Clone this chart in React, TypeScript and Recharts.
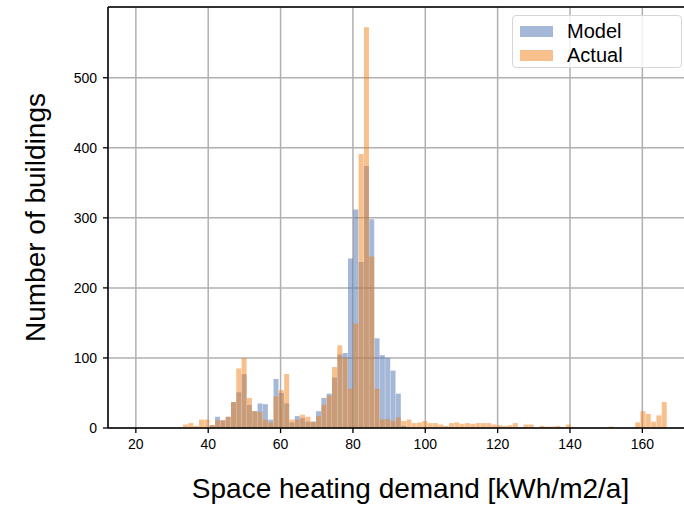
import { BarChart, Bar, XAxis, YAxis, CartesianGrid, ReferenceLine } from 'recharts'

// histogram bins (kWh/m2/a), one entry per bin centre
const binCenters = [
  33.795, 35.265, 36.735, 38.205, 39.675, 41.145, 42.615, 44.085, 45.555, 47.025,
  48.495, 49.965, 51.435, 52.905, 54.375, 55.845, 57.315, 58.785, 60.255, 61.725,
  63.195, 64.665, 66.135, 67.605, 69.075, 70.545, 72.015, 73.485, 74.955, 76.425,
  77.895, 79.365, 80.835, 82.305, 83.775, 85.245, 86.715, 88.185, 89.655, 91.125,
  92.595, 94.065, 95.535, 97.005, 98.475, 99.945, 101.415, 102.885, 104.355, 105.825,
  107.295, 108.765, 110.235, 111.705, 113.175, 114.645, 116.115, 117.585, 119.055, 120.525,
  121.995, 123.465, 124.935, 126.405, 127.875, 129.345, 130.815, 132.285, 133.755, 135.225,
  136.695, 138.165, 139.635, 141.105, 142.575, 144.045, 145.515, 146.985, 148.455, 149.925,
  151.395, 152.865, 154.335, 155.805, 157.275, 158.745, 160.215, 161.685, 163.155, 164.625,
  166.095,
]

const modelCounts = [
  0, 0, 0, 0, 0, 4, 16, 11, 16, 37,
  51, 77, 33, 24, 35, 34, 12, 70, 50, 35,
  8, 17, 14, 9, 9, 24, 43, 49, 72, 105,
  107, 242, 312, 237, 374, 298, 128, 104, 100, 82,
  49, 3, 0, 0, 0, 0, 0, 0, 0, 0,
  0, 0, 0, 0, 0, 0, 0, 0, 0, 0,
  0, 0, 0, 0, 0, 0, 0, 0, 0, 0,
  0, 0, 0, 0, 0, 0, 0, 0, 0, 0,
  0, 0, 0, 0, 0, 0, 0, 0, 0, 0,
  0,
]

const actualCounts = [
  5, 7, 3, 12, 12, 4, 11, 11, 16, 37,
  85, 100, 43, 24, 23, 12, 8, 45, 54, 77,
  12, 12, 19, 16, 9, 17, 33, 46, 87, 118,
  100, 56, 149, 391, 572, 245, 56, 12, 13, 10,
  15, 10, 12, 7, 8, 10, 7, 7, 5, 3,
  7, 8, 6, 7, 6, 7, 7, 7, 5, 4,
  3, 4, 7, 1, 5, 5, 0, 3, 2, 2,
  3, 1, 5, 1, 1, 0, 0, 0, 0, 0,
  2, 0, 0, 0, 0, 8, 24, 20, 9, 18,
  37,
]

const xTicks = [20, 40, 60, 80, 100, 120, 140, 160]
const yTicks = [0, 100, 200, 300, 400, 500]

const rows = binCenters.map((x, i) => ({ x, model: modelCounts[i], actual: actualCounts[i] }))

const FONT = '"Liberation Sans", Arial, sans-serif'
const MODEL = '#4c72b0'
const ACTUAL = '#f0821a'
const GRID = '#b0b0b0'

const YLabel = ({ viewBox }: any) => {
  const cx = viewBox.x + 35
  const cy = viewBox.y + viewBox.height / 2
  return (
    <text x={cx} y={cy} transform={`rotate(-90 ${cx} ${cy})`} textAnchor="middle"
      dominantBaseline="central" fontSize={28} fontFamily={FONT} fill="#000">
      Number of buildings
    </text>
  )
}

const XLabel = ({ viewBox }: any) => (
  <text x={viewBox.x + viewBox.width / 2 + 10} y={viewBox.y + 70} textAnchor="middle"
    fontSize={28} fontFamily={FONT} fill="#000">
    Space heating demand [kWh/m2/a]
  </text>
)

const swatch = (color: string) => ({
  display: 'inline-block', width: 33, height: 11, background: color, opacity: 0.5, marginRight: 14,
})

export default function App() {
  return (
    <div style={{ position: 'fixed', left: 0, top: 0, width: 684, height: 506, overflow: 'hidden', background: '#fff' }}>
      <BarChart width={700} height={506} data={rows} barCategoryGap={0} barGap={0}
        margin={{ top: 7, right: 7, bottom: 0, left: 0 }}>
        <XAxis xAxisId="a" dataKey="x" type="number" domain={[12.3, 174]} allowDataOverflow hide height={0} />
        <XAxis xAxisId="m" dataKey="x" type="number" domain={[12.3, 174]} ticks={xTicks}
          allowDataOverflow height={78} tickSize={5} tickMargin={6}
          axisLine={{ stroke: '#000', strokeWidth: 1.5 }} tickLine={{ stroke: '#000', strokeWidth: 1.3 }}
          tick={{ fontSize: 14, fill: '#000', fontFamily: FONT }} label={<XLabel />} />
        <YAxis domain={[0, 601]} ticks={yTicks} allowDataOverflow width={108} tickSize={5} tickMargin={6}
          axisLine={{ stroke: '#000', strokeWidth: 1.5 }} tickLine={{ stroke: '#000', strokeWidth: 1.3 }}
          tick={{ fontSize: 14, fill: '#000', fontFamily: FONT }} label={<YLabel />} />
        <Bar xAxisId="m" dataKey="model" fill={MODEL} fillOpacity={0.5} isAnimationActive={false} />
        <Bar xAxisId="a" dataKey="actual" fill={ACTUAL} fillOpacity={0.5} isAnimationActive={false} />
        <CartesianGrid xAxisId="m" stroke={GRID} strokeWidth={1.5} />
        <ReferenceLine xAxisId="m" y={601} stroke="#000" strokeWidth={1.5} />
      </BarChart>
      <div style={{
        position: 'absolute', left: 512, top: 15, width: 170, height: 53, boxSizing: 'border-box',
        border: '1px solid #d6d6d6', borderRadius: 4, background: 'rgba(255,255,255,0.8)',
        fontFamily: FONT, fontSize: 20, color: '#000', padding: '3px 0 0 7px', lineHeight: '24px',
      }}>
        <div style={{ display: 'flex', alignItems: 'center' }}><span style={swatch(MODEL)} />Model</div>
        <div style={{ display: 'flex', alignItems: 'center' }}><span style={swatch(ACTUAL)} />Actual</div>
      </div>
    </div>
  )
}
